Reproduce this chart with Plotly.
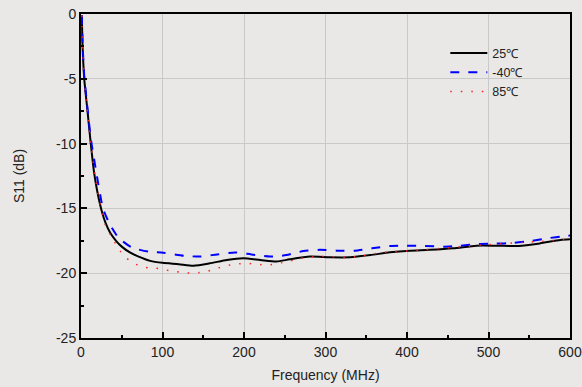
import plotly.graph_objects as go

# 25 °C
f_25 = [1, 2, 4, 8, 12, 16, 20, 25, 30, 36, 43, 50, 60, 70, 85, 100, 120, 138, 158, 179, 199,
        220, 240, 256, 281, 305, 330, 355, 379, 404, 428, 457, 485, 510, 537, 563, 588, 600]
s_25 = [-0.1, -2.6, -5.0, -7.5, -10.0, -12.2, -13.7, -15.1, -16.1, -16.9, -17.5, -17.95, -18.4,
        -18.7, -19.05, -19.2, -19.3, -19.42, -19.24, -18.98, -18.85, -18.98, -19.1, -18.93,
        -18.72, -18.77, -18.77, -18.6, -18.39, -18.26, -18.2, -18.08, -17.88, -17.88, -17.9,
        -17.7, -17.44, -17.39]

# -40 °C
f_m40 = [1, 2, 4, 8, 12, 19, 27, 36, 46, 62, 83, 101, 126, 146, 167, 189, 209, 232, 252, 273,
         293, 314, 336, 357, 379, 400, 422, 445, 465, 488, 508, 530, 551, 572, 594, 600]
s_m40 = [-0.1, -2.4, -4.8, -7.3, -9.6, -12.3, -15.0, -16.3, -17.26, -18.0, -18.34, -18.42,
         -18.65, -18.72, -18.55, -18.4, -18.55, -18.72, -18.6, -18.29, -18.2, -18.26, -18.26,
         -18.08, -17.9, -17.88, -17.9, -17.95, -17.88, -17.75, -17.72, -17.67, -17.52, -17.31,
         -17.13, -17.1]

# 85 °C
f_85 = [1, 2, 4, 8, 12, 20, 30, 41, 48, 56, 67, 79, 92, 104, 117, 130, 144, 156, 167, 179, 191,
        204, 217, 230, 242, 254, 269, 293, 330, 371, 420, 493, 575, 600]
s_85 = [-0.1, -2.7, -5.1, -7.6, -10.1, -13.6, -16.3, -17.57, -18.29, -18.85, -19.3, -19.55,
        -19.62, -19.75, -19.88, -19.98, -19.96, -19.83, -19.62, -19.42, -19.29, -19.24, -19.32,
        -19.37, -19.24, -19.1, -18.85, -18.7, -18.77, -18.4, -18.2, -17.82, -17.5, -17.4]

x_ticks = [0, 100, 200, 300, 400, 500, 600]
x_labels = ["0", "100", "200", "300", "400", "500", "600"]
y_ticks = [0, -5, -10, -15, -20, -25]
y_labels = ["0", "-5", "-10", "-15", "-20", "-25"]
names = ["25℃", "-40℃", "85℃"]

FONT = "Liberation Sans, Arial, sans-serif"
BG = "#E9E8E6"
TXT = "#222222"

fig = go.Figure()
fig.add_trace(go.Scatter(x=f_25, y=s_25, mode="lines", name=names[0],
                         line=dict(color="black", width=2, shape="spline", smoothing=0.6)))
fig.add_trace(go.Scatter(x=f_m40, y=s_m40, mode="lines", name=names[1],
                         line=dict(color="#0000FF", width=2, dash="9px,9px", shape="spline", smoothing=0.6)))
fig.add_trace(go.Scatter(x=f_85, y=s_85, mode="lines", name=names[2],
                         line=dict(color="#FF2020", width=1.5, dash="1.5px,9px", shape="spline", smoothing=0.6)))

axis_common = dict(
    showline=True, linecolor="black", linewidth=2, mirror=True,
    showgrid=True, gridcolor="#C9C9C9", gridwidth=1, zeroline=False,
    ticks="inside", ticklen=6, tickwidth=1.5, tickcolor="black",
    tickfont=dict(family=FONT, size=14, color=TXT),
    automargin=False,
)

fig.update_xaxes(range=[0, 600], tickvals=x_ticks, ticktext=x_labels,
                 minor=dict(ticks="inside", ticklen=3, dtick=50, tick0=0, tickcolor="black", showgrid=False),
                 title=dict(text="Frequency (MHz)", font=dict(family=FONT, size=14, color=TXT), standoff=11),
                 **axis_common)
fig.update_yaxes(range=[-25, 0], tickvals=y_ticks, ticktext=y_labels,
                 minor=dict(ticks="inside", ticklen=3, dtick=2.5, tick0=0, tickcolor="black", showgrid=False),
                 title=dict(text="S11 (dB)", font=dict(family=FONT, size=14, color=TXT), standoff=28),
                 **axis_common)

fig.update_layout(
    width=582, height=387,
    margin=dict(l=81, r=12, t=14, b=49),
    paper_bgcolor=BG, plot_bgcolor=BG,
    font=dict(family=FONT, size=12, color=TXT),
    showlegend=True,
    legend=dict(x=0.745, y=0.925, xanchor="left", yanchor="top",
                bgcolor="rgba(0,0,0,0)", borderwidth=0,
                font=dict(family=FONT, size=12.5, color=TXT),
                tracegroupgap=0, itemwidth=37),
)

fig.write_html(
    "out.html",
    config={"displayModeBar": False},
    post_script="document.body.style.margin='0';document.body.style.background='#E9E8E6';document.body.style.overflow='hidden';",
)
